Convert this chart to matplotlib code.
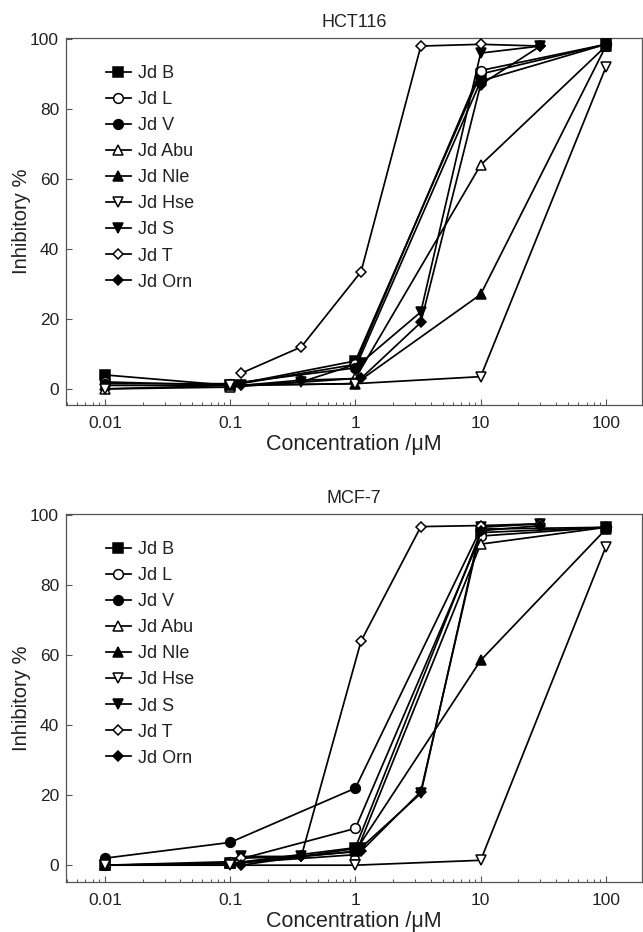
import matplotlib
matplotlib.use("Agg")
import matplotlib.pyplot as plt
from matplotlib.ticker import LogLocator, NullFormatter, FixedLocator

plt.rcParams['font.family'] = ['Liberation Sans', 'DejaVu Sans']

# Concentrations (uM)
conc_a = [0.01, 0.1, 1, 10, 100]                 # Jd B, L, V, Abu, Nle, Hse
conc_b = [0.123, 0.37, 1.11, 3.33, 10, 30]       # Jd S, T, Orn

names = ["Jd B", "Jd L", "Jd V", "Jd Abu", "Jd Nle", "Jd Hse", "Jd S", "Jd T", "Jd Orn"]

# HCT116 inhibitory %
hct_B   = [4, 1, 8, 90, 98.5]
hct_L   = [2, 1, 7, 91, 98.5]
hct_V   = [1.5, 1.5, 6, 88, 98.5]
hct_Abu = [0, 0.5, 3, 64, 98]
hct_Nle = [1, 1, 1.5, 27, 98]
hct_Hse = [0, 1, 1.5, 3.5, 92]
hct_S   = [1, 2, 7.5, 22, 96, 98]
hct_T   = [4.5, 12, 33.5, 98, 98.5, 98]
hct_Orn = [1, 2.5, 3, 19, 87, 98]

# MCF-7 inhibitory %
mcf_B   = [0, 0.5, 5, 95, 96.5]
mcf_L   = [0, 1, 10.5, 94, 96.5]
mcf_V   = [2, 6.5, 22, 96, 96.5]
mcf_Abu = [0, 0.5, 3, 91.7, 96.5]
mcf_Nle = [0, 0.5, 4, 58.5, 96]
mcf_Hse = [0, 0, 0, 1.4, 91]
mcf_S   = [2.5, 2.5, 5, 20.5, 96.5, 97.5]
mcf_T   = [2, 2.5, 64, 96.7, 97, 97.5]
mcf_Orn = [0, 2.5, 4, 21, 95.5, 97]

yticks = [0, 20, 40, 60, 80, 100]
xticks = [0.01, 0.1, 1, 10, 100]
xticklabels = ["0.01", "0.1", "1", "10", "100"]

styles = [
    dict(marker='s', mfc='black', ms=7),
    dict(marker='o', mfc='white', ms=7),
    dict(marker='o', mfc='black', ms=7),
    dict(marker='^', mfc='white', ms=7.5),
    dict(marker='^', mfc='black', ms=7.5),
    dict(marker='v', mfc='white', ms=7.5),
    dict(marker='v', mfc='black', ms=7.5),
    dict(marker='D', mfc='white', ms=5),
    dict(marker='D', mfc='black', ms=5.5),
]

fig = plt.figure(figsize=(6.43, 9.32), dpi=100)
W, H = 643, 932

def make_ax(top_px, bot_px):
    return fig.add_axes([66 / W, 1 - bot_px / H, (642 - 66) / W, (bot_px - top_px) / H])

panels = [
    ("HCT116", make_ax(38, 405), [hct_B, hct_L, hct_V, hct_Abu, hct_Nle, hct_Hse, hct_S, hct_T, hct_Orn], (-4.6, 100.3)),
    ("MCF-7", make_ax(514, 882), [mcf_B, mcf_L, mcf_V, mcf_Abu, mcf_Nle, mcf_Hse, mcf_S, mcf_T, mcf_Orn], (-4.8, 100.3)),
]

txt = '#222222'
spine_c = '#555555'
for title, ax, series, ylim in panels:
    for i, (nm, vals) in enumerate(zip(names, series)):
        xs = conc_a if len(vals) == len(conc_a) else conc_b
        st = styles[i]
        ax.plot(xs, vals, color='black', lw=1.25, marker=st['marker'], mfc=st['mfc'],
                mec='black', mew=1.1, ms=st['ms'], label=nm, zorder=3 + i * 0.1)
    ax.set_xscale('log')
    ax.set_xlim(0.0049, 194)
    ax.set_ylim(*ylim)
    ax.xaxis.set_major_locator(FixedLocator(xticks))
    ax.set_xticklabels(xticklabels)
    ax.xaxis.set_minor_locator(LogLocator(base=10, subs=range(2, 10), numticks=20))
    ax.xaxis.set_minor_formatter(NullFormatter())
    ax.set_yticks(yticks)
    ax.tick_params(axis='both', which='major', direction='in', length=4, width=0.8,
                   colors=spine_c, labelcolor=txt, labelsize=12.5, pad=5)
    ax.tick_params(axis='x', which='major', pad=8)
    ax.tick_params(axis='x', which='minor', direction='in', length=2.5, width=0.7, colors=spine_c)
    for s in ax.spines.values():
        s.set_color(spine_c)
        s.set_linewidth(0.9)
    ax.set_title(title, fontsize=13, color=txt, pad=8)
    ax.set_ylabel("Inhibitory %", fontsize=14.5, color=txt, labelpad=-1)
    ax.set_xlabel("Concentration /\u03bcM", fontsize=15.5, color=txt, labelpad=2)
    leg = ax.legend(loc='upper left', bbox_to_anchor=(0.048, 0.96), frameon=False,
                    fontsize=13, labelspacing=0.5, handlelength=1.35, handletextpad=0.4,
                    borderpad=0.2)
    for t in leg.get_texts():
        t.set_color(txt)

fig.savefig("out.png", dpi=100)
